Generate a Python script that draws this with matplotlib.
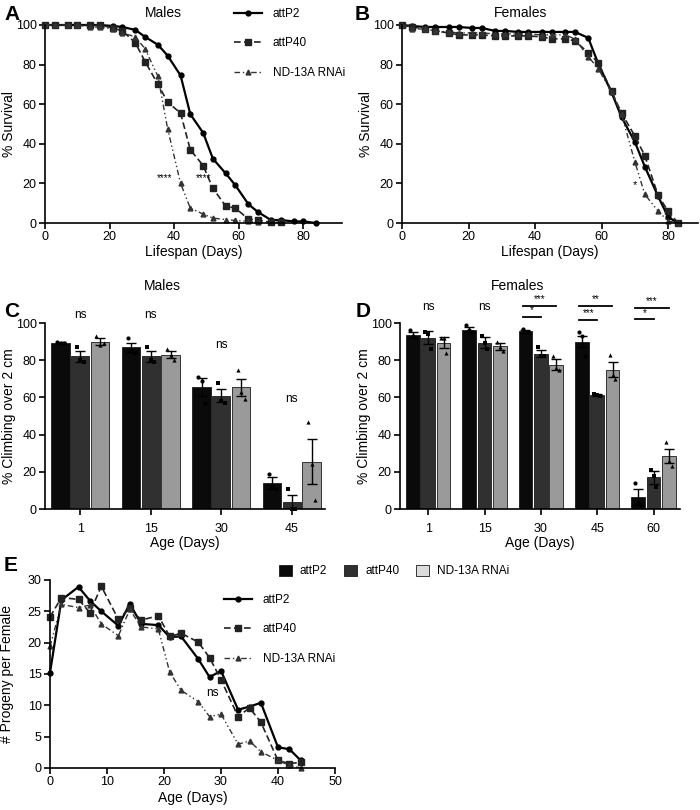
import numpy as np
import matplotlib
matplotlib.use("Agg")
import matplotlib.pyplot as plt
from matplotlib.lines import Line2D
from matplotlib.patches import Patch

plt.rcParams['font.family'] = ['Liberation Sans', 'DejaVu Sans']
plt.rcParams['font.size'] = 10

genotypes = ["attP2", "attP40", "ND-13A RNAi"]

# --- A: male lifespan ---
male_days_p2 = [0, 3, 7, 10, 14, 17, 21, 24, 28, 31, 35, 38, 42, 45, 49, 52, 56, 59, 63, 66, 70, 73, 77, 80, 84]
male_surv_p2 = [100, 100, 100, 100, 100, 100, 99.5, 99, 97.5, 94, 90, 84.5, 74.5, 55, 45.5, 32.5, 25, 19, 9.5, 5.5, 1.5, 1.5, 0.8, 0.8, 0]
male_days_p40 = [0, 3, 7, 10, 14, 17, 21, 24, 28, 31, 35, 38, 42, 45, 49, 52, 56, 59, 63, 66, 70, 73]
male_surv_p40 = [100, 100, 100, 100, 100, 100, 98.5, 97, 91, 81.5, 70, 61, 55.5, 37, 29, 17.5, 8.5, 7.5, 2, 1.5, 0.3, 0.3]
male_days_nd = [0, 3, 7, 10, 14, 17, 21, 24, 28, 31, 35, 38, 42, 45, 49, 52, 56, 59, 63, 66]
male_surv_nd = [100, 100, 100, 100, 99, 99, 98, 96, 94, 88, 74, 47.5, 20, 7.5, 4.5, 2.5, 1.7, 1.3, 0.8, 0.3]

# --- B: female lifespan ---
fem_days = [0, 3, 7, 10, 14, 17, 21, 24, 28, 31, 35, 38, 42, 45, 49, 52, 56, 59, 63, 66, 70, 73, 77, 80, 83]
fem_surv_p2 = [100, 99.5, 99, 99, 99, 99, 98.5, 98.5, 97, 97, 96.5, 96.5, 96.5, 96.5, 96.5, 96.5, 93.5, 80.5, 66, 53.5, 41, 28.5, 13.5, 3, 0]
fem_surv_p40 = [100, 99, 98, 97, 96, 95, 95, 95, 94.5, 94.5, 94.5, 94.5, 94, 93, 93, 92, 86, 81, 66.5, 55.5, 44, 34, 14, 6, 0]
fem_surv_nd = [100, 98, 98, 97, 96.5, 96, 96, 96, 95.5, 95.5, 95.5, 95.5, 95, 95, 95, 93, 84, 78, 66, 55, 31, 14.5, 6, 1, 0]

# --- C: male climbing ---
male_ages = ["1", "15", "30", "45"]
male_climb_mean = {"attP2": [89.5, 87, 65.5, 14], "attP40": [82, 82, 61, 3.5], "ND-13A RNAi": [90, 83, 65.5, 25.5]}
male_climb_sem = {"attP2": [0.5, 2.5, 5, 3], "attP40": [3, 3, 3.5, 4], "ND-13A RNAi": [2, 2, 4.5, 12]}
male_climb_pts = {
    "attP2": [[90, 89, 89.5], [92, 85, 84], [71, 69, 57], [19, 12, 11]],
    "attP40": [[87, 80, 79], [87, 80, 79], [68, 58, 57], [11, 0, 0]],
    "ND-13A RNAi": [[93, 88, 89], [86, 83, 80], [75, 63, 59], [47, 24, 5]],
}
male_ns_y = [101, 101, 85, 56]

# --- D: female climbing ---
fem_ages = ["1", "15", "30", "45", "60"]
fem_climb_mean = {"attP2": [93.5, 96.5, 95.5, 90, 6.5], "attP40": [92, 89.5, 83.5, 61.5, 17], "ND-13A RNAi": [89.5, 87.5, 77.5, 75, 28.5]}
fem_climb_sem = {"attP2": [1.5, 1.5, 1, 3, 4.5], "attP40": [3.5, 3, 2, 0.5, 3.5], "ND-13A RNAi": [3, 2, 3, 4, 4]}
fem_climb_pts = {
    "attP2": [[96, 93, 92], [99, 96, 95], [97, 95, 95], [95, 93, 82], [14, 3, 2]],
    "attP40": [[95, 94, 86], [93, 89, 86], [87, 82, 82], [62, 61.5, 61], [21, 18, 12]],
    "ND-13A RNAi": [[92, 92, 84], [90, 87, 85], [82, 76, 75], [83, 72, 70], [36, 26, 23]],
}
# significance: group, label, y of line, short (vs attP40) or long (vs ND)
fem_sig = [(2, "***", 109.3, "long"), (2, "*", 103.4, "short"),
           (3, "**", 109.3, "long"), (3, "***", 101.6, "short"),
           (4, "***", 108.2, "long"), (4, "*", 102, "short")]

# --- E: fecundity ---
fec_days = [0, 2, 5, 7, 9, 12, 14, 16, 19, 21, 23, 26, 28, 30, 33, 35, 37, 40, 42, 44]
fec_p2 = [15.2, 26.8, 28.9, 26.7, 25, 22.7, 26.2, 23, 22.8, 20.9, 21, 17.4, 14.5, 15.5, 9.3, 9.8, 10.4, 3.3, 3, 1.2]
fec_p40 = [24.1, 27.2, 26.9, 24.8, 29, 23.7, 25.5, 23.6, 24.3, 21, 21.5, 20.1, 17.6, 14.1, 8.2, 9.6, 7.3, 1.2, 0.7, 0.9]
fec_nd = [19.4, 26.1, 25.6, 26, 23, 21.1, 25.3, 22.5, 22.2, 15.3, 12.4, 10.6, 8.2, 8.6, 3.8, 4.3, 2.6, 1.2, 0.4, 0]

line_styles = {
    "attP2": dict(color="black", ls="-", lw=1.6, marker="o", ms=3.5),
    "attP40": dict(color="#222222", ls=(0, (4, 2)), lw=1.2, marker="s", ms=4),
    "ND-13A RNAi": dict(color="#333333", ls=(0, (4, 2, 1, 2, 1, 2)), lw=1.0, marker="^", ms=3.5),
}
bar_colors = {"attP2": "#0a0a0a", "attP40": "#303030", "ND-13A RNAi": "#9a9a9a"}
pt_markers = {"attP2": "o", "attP40": "s", "ND-13A RNAi": "^"}

TICK = 9
LAB = 10

fig = plt.figure(figsize=(7, 8.1), dpi=100)


def style_ax(ax, ylab_x):
    ax.spines['top'].set_visible(False)
    ax.spines['right'].set_visible(False)
    ax.spines['left'].set_linewidth(1.2)
    ax.spines['bottom'].set_linewidth(1.2)
    ax.tick_params(direction='out', length=4, width=1.2, labelsize=TICK, pad=2)
    ax.yaxis.set_label_coords(ylab_x, 0.5)


def line_legend(x, y):
    handles = [Line2D([0], [0], **line_styles[g]) for g in genotypes]
    fig.legend(handles, genotypes, loc='upper left', bbox_to_anchor=(x, y),
               frameon=False, fontsize=8.5, handlelength=2.4, labelspacing=1.5,
               handletextpad=0.9, borderaxespad=0)


# A
axA = fig.add_axes([45 / 700, 1 - 223 / 810, 297 / 700, 198 / 810])
axA.plot(male_days_p2, male_surv_p2, clip_on=False, **line_styles["attP2"])
axA.plot(male_days_p40, male_surv_p40, clip_on=False, **line_styles["attP40"])
axA.plot(male_days_nd, male_surv_nd, clip_on=False, **line_styles["ND-13A RNAi"])
axA.set_xlim(0, 92)
axA.set_ylim(0, 100)
axA.set_xticks([0, 20, 40, 60, 80])
axA.set_yticks([0, 20, 40, 60, 80, 100])
axA.set_xlabel("Lifespan (Days)", fontsize=LAB, labelpad=1)
axA.set_ylabel("% Survival", fontsize=LAB)
axA.set_title("Males", fontsize=LAB, pad=6, x=0.4)
axA.text(37, 20, "****", ha='center', va='bottom', fontsize=7)
axA.text(49, 20, "****", ha='center', va='bottom', fontsize=7)
style_ax(axA, -0.098)
line_legend(229 / 700, 1 - 3 / 810)

# B
axB = fig.add_axes([402 / 700, 1 - 223 / 810, 296 / 700, 198 / 810])
axB.plot(fem_days, fem_surv_p2, clip_on=False, **line_styles["attP2"])
axB.plot(fem_days, fem_surv_p40, clip_on=False, **line_styles["attP40"])
axB.plot(fem_days, fem_surv_nd, clip_on=False, **line_styles["ND-13A RNAi"])
axB.set_xlim(0, 89)
axB.set_ylim(0, 100)
axB.set_xticks([0, 20, 40, 60, 80])
axB.set_yticks([0, 20, 40, 60, 80, 100])
axB.set_xlabel("Lifespan (Days)", fontsize=LAB, labelpad=1)
axB.set_ylabel("% Survival", fontsize=LAB)
axB.set_title("Females", fontsize=LAB, pad=6, x=0.4)
axB.text(70, 16.5, "*", ha='center', va='bottom', fontsize=8)
style_ax(axB, -0.098)


def climb_panel(ax, ages, means, sems, pts, width, step):
    x = np.arange(len(ages))
    for i, g in enumerate(genotypes):
        xs = x + (i - 1) * step
        ax.bar(xs, means[g], width=width, color=bar_colors[g], edgecolor="#1a1a1a",
               linewidth=0.6, zorder=2)
        ax.errorbar(xs, means[g], yerr=sems[g], fmt='none', ecolor='black',
                    elinewidth=1.0, capsize=3.5, capthick=1.0, zorder=3)
        for j, p in enumerate(pts[g]):
            ax.scatter(xs[j] + np.array([-0.05, 0, 0.05]), p, marker=pt_markers[g],
                       s=9, color='black', zorder=4, clip_on=False, linewidths=0)
    ax.set_xticks(x)
    ax.set_xticklabels(ages)
    ax.set_xlim(x[0] - 0.5, x[-1] + 0.47)
    ax.set_ylim(0, 100)
    ax.set_yticks([0, 20, 40, 60, 80, 100])
    ax.set_xlabel("Age (Days)", fontsize=LAB, labelpad=1)
    ax.set_ylabel("% Climbing over 2 cm", fontsize=LAB)
    style_ax(ax, -0.105)
    ax.tick_params(axis='x', pad=6)


# C
axC = fig.add_axes([45 / 700, 1 - 509 / 810, 280 / 700, 186 / 810])
climb_panel(axC, male_ages, male_climb_mean, male_climb_sem, male_climb_pts, 0.26, 0.28)
for j, yv in enumerate(male_ns_y):
    axC.text(j, yv, "ns", ha='center', va='bottom', fontsize=8.5)
axC.set_title("Males", fontsize=LAB, pad=24, x=0.42)

# D
axD = fig.add_axes([400 / 700, 1 - 509 / 810, 280 / 700, 186 / 810])
climb_panel(axD, fem_ages, fem_climb_mean, fem_climb_sem, fem_climb_pts, 0.24, 0.273)
axD.text(0, 105.5, "ns", ha='center', va='bottom', fontsize=8.5)
axD.text(1, 105.5, "ns", ha='center', va='bottom', fontsize=8.5)
for g, lab, yv, kind in fem_sig:
    x0 = g - 0.32
    x1 = g + 0.27 if kind == "long" else g + 0.0
    axD.plot([x0, x1], [yv, yv], color='black', lw=1.3, clip_on=False)
    axD.text((x0 + x1) / 2, yv + 0.8, lab, ha='center', va='bottom', fontsize=7)
axD.set_title("Females", fontsize=LAB, pad=24, x=0.42)

# bar legend
bar_handles = [Patch(facecolor=c, edgecolor='#1a1a1a', linewidth=0.6)
               for c in ["#0a0a0a", "#303030", "#dcdcdc"]]
fig.legend(bar_handles, genotypes, loc='center left', bbox_to_anchor=(274 / 700, 1 - 571 / 810),
           ncol=3, frameon=False, fontsize=8.5, handlelength=1.1, handleheight=1.1,
           handletextpad=0.7, columnspacing=1.4, borderaxespad=0)

# E
axE = fig.add_axes([50 / 700, 1 - 768 / 810, 285 / 700, 188 / 810])
axE.plot(fec_days, fec_p2, clip_on=False, **line_styles["attP2"])
axE.plot(fec_days, fec_p40, clip_on=False, **line_styles["attP40"])
axE.plot(fec_days, fec_nd, clip_on=False, **line_styles["ND-13A RNAi"])
axE.set_xlim(0, 50)
axE.set_ylim(0, 30)
axE.set_xticks([0, 10, 20, 30, 40, 50])
axE.set_yticks([0, 5, 10, 15, 20, 25, 30])
axE.set_xlabel("Age (Days)", fontsize=LAB, labelpad=2)
axE.set_ylabel("# Progeny per Female", fontsize=LAB)
axE.text(28.5, 11.9, "ns", ha='center', va='center', fontsize=8.5)
style_ax(axE, -0.125)
line_legend(219 / 700, 1 - 589 / 810)

# panel letters
for lab, (px, py) in {"A": (4, 5), "B": (355, 5), "C": (4, 302), "D": (356, 302), "E": (4, 556)}.items():
    fig.text(px / 700, 1 - py / 810, lab, fontsize=15, fontweight='bold', va='top', ha='left')

fig.savefig("out.png", dpi=100)
